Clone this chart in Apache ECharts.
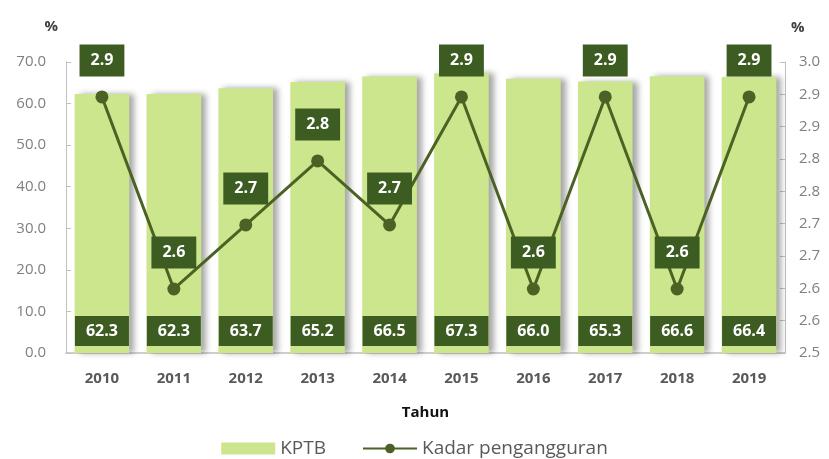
<!DOCTYPE html>
<html>
<head>
<meta charset="utf-8">
<script src="https://cdn.jsdelivr.net/npm/echarts@6/dist/echarts.min.js"></script>
<style>
  html, body { margin: 0; padding: 0; background: #fff; }
  #chart { width: 829px; height: 459px; }
</style>
</head>
<body>
<div id="chart"></div>
<script>
var years = ["2010", "2011", "2012", "2013", "2014", "2015", "2016", "2017", "2018", "2019"];
var kptb = [62.3, 62.3, 63.7, 65.2, 66.5, 67.3, 66.0, 65.3, 66.6, 66.4];
var kadar = [2.94, 2.61, 2.72, 2.83, 2.72, 2.94, 2.61, 2.94, 2.61, 2.94];

var font = "Open Sans";
var chart = echarts.init(document.getElementById("chart"));

chart.setOption({
  animation: false,
  textStyle: { fontFamily: font },
  grid: { left: 66, right: 44, top: 62, bottom: 106 },
  legend: {
    bottom: -4,
    left: "center",
    itemGap: 36,
    itemWidth: 54,
    itemHeight: 12,
    textStyle: { fontSize: 19, color: "#595959", fontFamily: font },
    data: [
      { name: "KPTB", icon: "rect" },
      { name: "Kadar pengangguran" }
    ]
  },
  xAxis: {
    type: "category",
    data: years,
    name: "Tahun",
    nameLocation: "middle",
    nameGap: 52,
    nameTextStyle: { fontSize: 15, fontWeight: "bold", color: "#111" },
    axisLine: { lineStyle: { color: "#bfbfbf", width: 1.5 } },
    axisTick: { show: false },
    axisLabel: { fontSize: 15, fontWeight: "bold", color: "#595959", margin: 18 }
  },
  yAxis: [
    {
      type: "value",
      min: 0,
      max: 70,
      interval: 10,
      name: "%",
      nameGap: 28,
      nameTextStyle: { fontSize: 15, fontWeight: "bold", color: "#404040", align: "right", padding: [0, 8, 0, 0] },
      axisLine: { show: true, lineStyle: { color: "#bfbfbf" } },
      axisTick: { show: true, inside: true, length: 5, lineStyle: { color: "#bfbfbf" } },
      splitLine: { show: false },
      axisLabel: {
        fontSize: 15, color: "#7f7f7f", margin: 20,
        formatter: function (v) { return v.toFixed(1); }
      }
    },
    {
      type: "value",
      min: 2.5,
      max: 3.0,
      interval: 0.5 / 9,
      name: "%",
      nameGap: 27,
      nameTextStyle: { fontSize: 15, fontWeight: "bold", color: "#404040", align: "left", padding: [0, 0, 0, 6] },
      axisLine: { show: true, lineStyle: { color: "#bfbfbf" } },
      axisTick: { show: true, inside: true, length: 5, lineStyle: { color: "#bfbfbf" } },
      splitLine: { show: false },
      axisLabel: {
        fontSize: 15, color: "#7f7f7f", margin: 14,
        formatter: function (v) { return v.toFixed(1); }
      }
    }
  ],
  series: [
    {
      name: "KPTB",
      type: "bar",
      data: kptb,
      barWidth: "76%",
      itemStyle: {
        color: "#cbe68c",
        shadowColor: "rgba(0,0,0,0.35)",
        shadowBlur: 6,
        shadowOffsetX: 5
      },
      label: {
        show: true,
        position: "insideBottom",
        distance: 7,
        color: "#fff",
        fontSize: 16,
        fontWeight: "bold",
        backgroundColor: "#3d5c22",
        padding: [7, 10],
        width: 34,
        align: "center",
        formatter: function (p) { return p.value.toFixed(1); }
      }
    },
    {
      name: "Kadar pengangguran",
      type: "line",
      yAxisIndex: 1,
      data: kadar,
      z: 5,
      symbol: "circle",
      symbolSize: 13,
      lineStyle: { color: "#4b6224", width: 3 },
      itemStyle: { color: "#4b6224" },
      label: {
        show: true,
        position: "top",
        distance: 14,
        color: "#fff",
        fontSize: 16,
        fontWeight: "bold",
        backgroundColor: "#3d5c22",
        padding: [8, 11],
        formatter: function (p) { return p.value.toFixed(1); }
      }
    }
  ]
});
</script>
</body>
</html>
